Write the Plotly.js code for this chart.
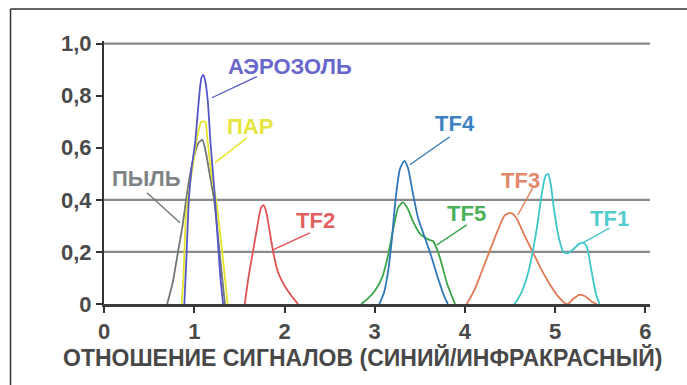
<!DOCTYPE html>
<html>
<head>
<meta charset="utf-8">
<script src="https://cdn.plot.ly/plotly-3.0.1.min.js"></script>
<style>
html,body{margin:0;padding:0;background:#fff;}
#chart{width:687px;height:385px;}
</style>
</head>
<body>
<div id="chart"></div>
<script>
// ---- data ----
const dustX = [0.70, 0.76, 0.82, 0.87, 0.91, 0.95, 1.00, 1.05, 1.09, 1.13, 1.17, 1.22, 1.28, 1.34];
const dustY = [0, 0.08, 0.20, 0.30, 0.40, 0.49, 0.57, 0.62, 0.63, 0.58, 0.50, 0.40, 0.20, 0];

const aerosolX = [0.89, 0.91, 0.94, 0.97, 1.01, 1.05, 1.08, 1.10, 1.12, 1.15, 1.18, 1.22, 1.26, 1.29, 1.32];
const aerosolY = [0, 0.15, 0.40, 0.52, 0.62, 0.78, 0.87, 0.88, 0.86, 0.78, 0.62, 0.45, 0.25, 0.10, 0];

const steamX = [0.86, 0.88, 0.91, 0.95, 1.00, 1.05, 1.08, 1.12, 1.15, 1.19, 1.25, 1.31, 1.37];
const steamY = [0, 0.10, 0.35, 0.45, 0.57, 0.67, 0.70, 0.70, 0.62, 0.50, 0.38, 0.20, 0];

const tf2X = [1.56, 1.60, 1.65, 1.70, 1.74, 1.77, 1.80, 1.84, 1.88, 1.93, 2.00, 2.08, 2.15];
const tf2Y = [0, 0.10, 0.20, 0.30, 0.37, 0.38, 0.35, 0.27, 0.19, 0.12, 0.07, 0.03, 0];

const tf4X = [3.05, 3.10, 3.15, 3.19, 3.23, 3.28, 3.33, 3.37, 3.42, 3.48, 3.55, 3.62, 3.70, 3.77, 3.81];
const tf4Y = [0, 0.04, 0.13, 0.25, 0.40, 0.52, 0.55, 0.52, 0.43, 0.33, 0.26, 0.19, 0.10, 0.03, 0];

const tf5X = [2.85, 2.92, 3.00, 3.08, 3.15, 3.20, 3.26, 3.31, 3.36, 3.42, 3.50, 3.58, 3.65, 3.72, 3.80, 3.89];
const tf5Y = [0, 0.02, 0.05, 0.10, 0.19, 0.28, 0.37, 0.39, 0.37, 0.32, 0.27, 0.25, 0.24, 0.18, 0.08, 0];

const tf3X = [4.02, 4.10, 4.18, 4.27, 4.36, 4.44, 4.51, 4.57, 4.65, 4.75, 4.85, 4.95, 5.03, 5.10, 5.14, 5.20, 5.27, 5.33, 5.40, 5.46];
const tf3Y = [0, 0.05, 0.12, 0.20, 0.28, 0.34, 0.35, 0.33, 0.27, 0.20, 0.13, 0.07, 0.03, 0.005, 0, 0.02, 0.035, 0.03, 0.01, 0];

const tf1X = [4.55, 4.62, 4.70, 4.75, 4.80, 4.85, 4.89, 4.92, 4.95, 4.98, 5.03, 5.09, 5.14, 5.20, 5.26, 5.31, 5.35, 5.40, 5.45, 5.49];
const tf1Y = [0, 0.04, 0.12, 0.20, 0.30, 0.42, 0.49, 0.50, 0.46, 0.38, 0.27, 0.20, 0.195, 0.21, 0.23, 0.235, 0.22, 0.13, 0.04, 0];

const seriesNames = ['ПЫЛЬ', 'ПАР', 'АЭРОЗОЛЬ', 'TF2', 'TF5', 'TF4', 'TF3', 'TF1'];
const xTickVals = [0, 1, 2, 3, 4, 5, 6];
const xTickText = ['0', '1', '2', '3', '4', '5', '6'];
const yTickVals = [0, 0.2, 0.4, 0.6, 0.8, 1.0];
const yTickText = ['0', '0,2', '0,4', '0,6', '0,8', '1,0'];
const gridLevels = [0.2, 0.4, 1.0];
const xTitle = 'ОТНОШЕНИЕ СИГНАЛОВ (СИНИЙ/ИНФРАКРАСНЫЙ)';

// ---- styling ----
const colors = {
  'ПЫЛЬ': '#6f7676',
  'ПАР': '#e4e42a',
  'АЭРОЗОЛЬ': '#5656c8',
  'TF2': '#e05252',
  'TF5': '#3aa64a',
  'TF4': '#2f78b8',
  'TF3': '#e07a52',
  'TF1': '#3cc6c8'
};
const textColors = {
  'ПЫЛЬ': '#7e8484',
  'ПАР': '#e6e640',
  'АЭРОЗОЛЬ': '#6868cc',
  'TF2': '#e26060',
  'TF5': '#4cb05a',
  'TF4': '#3d82c0',
  'TF3': '#e2896a',
  'TF1': '#52cccd'
};
const seriesData = {
  'ПЫЛЬ': [dustX, dustY],
  'ПАР': [steamX, steamY],
  'АЭРОЗОЛЬ': [aerosolX, aerosolY],
  'TF2': [tf2X, tf2Y],
  'TF5': [tf5X, tf5Y],
  'TF4': [tf4X, tf4Y],
  'TF3': [tf3X, tf3Y],
  'TF1': [tf1X, tf1Y]
};

// label placement: text position, leader line start (on curve) and end (near text)
const labelLayout = {
  'АЭРОЗОЛЬ': {tx: 2.06, ty: 0.912, x0: 1.196, y0: 0.792, x1: 1.694, y1: 0.873},
  'ПАР':      {tx: 1.617, ty: 0.681, x0: 1.229, y0: 0.542, x1: 1.584, y1: 0.638},
  'ПЫЛЬ':     {tx: 0.476, ty: 0.481, x0: 0.842, y0: 0.312, x1: 0.476, y1: 0.427},
  'TF2':      {tx: 2.348, ty: 0.319, x0: 1.871, y0: 0.208, x1: 2.281, y1: 0.273},
  'TF4':      {tx: 3.887, ty: 0.692, x0: 3.389, y0: 0.535, x1: 3.832, y1: 0.642},
  'TF5':      {tx: 4.02, ty: 0.346, x0: 3.688, y0: 0.227, x1: 4.02, y1: 0.304},
  'TF3':      {tx: 4.618, ty: 0.473, x0: 4.585, y0: 0.342, x1: 4.751, y1: 0.446},
  'TF1':      {tx: 5.603, ty: 0.327, x0: 5.305, y0: 0.235, x1: 5.603, y1: 0.292}
};

const FONT = 'Liberation Sans, Arial, sans-serif';

const traces = seriesNames.map(n => ({
  type: 'scatter', mode: 'lines', name: n,
  x: seriesData[n][0], y: seriesData[n][1],
  line: {color: colors[n], width: 1.8, shape: 'spline', smoothing: 0.6},
  hoverinfo: 'skip'
}));

const shapes = [];
gridLevels.forEach(g => shapes.push({
  type: 'line', xref: 'paper', yref: 'y', x0: 0, x1: 1, y0: g, y1: g,
  line: {color: '#8a8a8a', width: 2.2}, layer: 'below'
}));
seriesNames.forEach(n => {
  const L = labelLayout[n];
  shapes.push({type: 'line', xref: 'x', yref: 'y', x0: L.x0, y0: L.y0, x1: L.x1, y1: L.y1,
    line: {color: colors[n], width: 1.3}});
});
// outer frame (top and left)
shapes.push({type: 'line', xref: 'paper', yref: 'paper', x0: -0.1712, x1: -0.1712, y0: -0.5, y1: 1.1215,
  line: {color: '#333', width: 1.5}});
shapes.push({type: 'line', xref: 'paper', yref: 'paper', x0: -0.1712, x1: 1.2, y0: 1.1215, y1: 1.1215,
  line: {color: '#333', width: 1.5}});

const annotations = seriesNames.map(n => ({
  x: labelLayout[n].tx, y: labelLayout[n].ty, xref: 'x', yref: 'y',
  text: '<b>' + n + '</b>', showarrow: false, xanchor: 'center', yanchor: 'middle',
  font: {family: FONT, size: 22, color: textColors[n]}
}));
// x-axis title (placed as paper annotation so it can sit slightly left of the plot centre, as in the reference)
annotations.push({
  x: 0.474, y: -0.2018, xref: 'paper', yref: 'paper',
  text: '<b>' + xTitle + '</b>', showarrow: false, xanchor: 'center', yanchor: 'middle',
  font: {family: FONT, size: 23, color: '#484848'}
});

const layout = {
  width: 687, height: 385,
  margin: {l: 104, r: 37, t: 41.4, b: 81, pad: 0},
  paper_bgcolor: '#fff', plot_bgcolor: '#fff',
  showlegend: false,
  font: {family: FONT, size: 20, color: '#444'},
  xaxis: {
    range: [0, 6.05], tickvals: xTickVals, ticktext: xTickText.map(t => '<b>' + t + '</b>'),
    showgrid: false, zeroline: false,
    showline: true, linecolor: '#3c3c3c', linewidth: 3,
    ticks: 'outside', ticklen: 6, tickwidth: 2, tickcolor: '#333',
    tickfont: {family: FONT, size: 22, color: '#4a4a4a'}
  },
  yaxis: {
    range: [0, 1.01], tickvals: yTickVals, ticktext: yTickText.map(t => '<b>' + t + '</b>'),
    showgrid: false, zeroline: false,
    showline: true, linecolor: '#333', linewidth: 2,
    ticks: 'outside', ticklen: 6, tickwidth: 2, tickcolor: '#333',
    tickfont: {family: FONT, size: 22, color: '#4a4a4a'}
  },
  shapes: shapes,
  annotations: annotations
};

Plotly.newPlot('chart', traces, layout, {displayModeBar: false, staticPlot: true});
</script>
</body>
</html>
